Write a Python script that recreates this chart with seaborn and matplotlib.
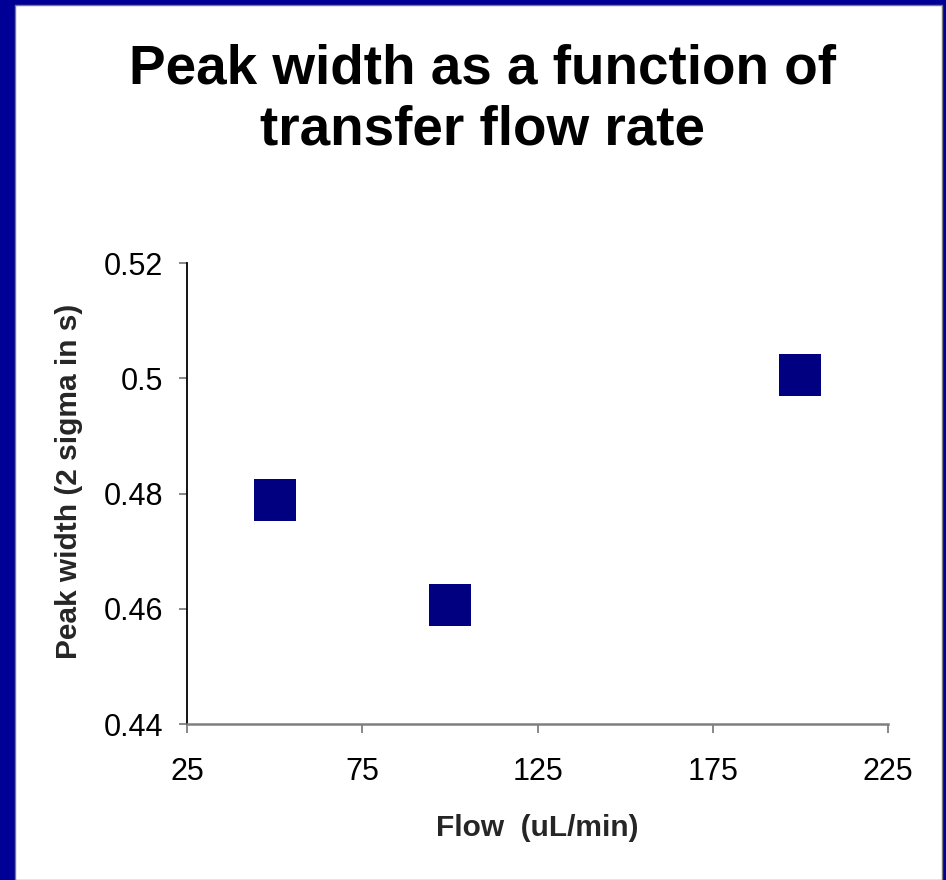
import matplotlib
matplotlib.use("Agg")
import matplotlib.pyplot as plt
from matplotlib.patches import Rectangle
import seaborn as sns
import pandas as pd

# Transfer flow rate (uL/min) and the measured peak width (2 sigma, s)
flow = [50, 100, 200]
peak_width = [0.4788, 0.4607, 0.5005]
x_ticks = [25, 75, 125, 175, 225]
y_ticks = [0.44, 0.46, 0.48, 0.50, 0.52]
y_tick_labels = ["0.44", "0.46", "0.48", "0.5", "0.52"]

df = pd.DataFrame({"flow": flow, "width": peak_width})

sns.set_theme(style="white")
plt.rcParams["font.family"] = ["Liberation Sans", "DejaVu Sans"]

fig = plt.figure(figsize=(9.46, 8.8), dpi=100)
fig.patch.set_facecolor("#000096")

# white slide panel inside the blue frame
W, H = 946.0, 880.0
panel = Rectangle((15 / W, 0), (942 - 15) / W, 875 / H,
                  transform=fig.transFigure, facecolor="white",
                  edgecolor="#7a7a7a", linewidth=1.0, zorder=-10)
fig.patches.append(panel)

ax = fig.add_axes([187 / W, 156 / H, 701 / W, 461 / H])
ax.set_zorder(5)
ax.set_facecolor("none")

sns.scatterplot(data=df, x="flow", y="width", marker="s", s=914,
                color="#000080", edgecolor="none", linewidth=0, ax=ax,
                clip_on=False, zorder=3)

ax.set_xlim(25, 225)
ax.set_ylim(0.44, 0.52)
ax.set_xticks(x_ticks)
ax.set_xticklabels([str(t) for t in x_ticks])
ax.set_yticks(y_ticks)
ax.set_yticklabels(y_tick_labels)

for side in ("top", "right"):
    ax.spines[side].set_visible(False)
ax.spines["left"].set_color("#000000")
ax.spines["left"].set_linewidth(1.3)
ax.spines["bottom"].set_color("#7f7f7f")
ax.spines["bottom"].set_linewidth(1.8)

ax.tick_params(axis="x", direction="out", length=6.5, width=1.3,
               color="#7f7f7f", labelsize=22, pad=17, labelcolor="black")
ax.tick_params(axis="y", direction="out", length=6, width=1.3,
               color="#7f7f7f", labelsize=22, pad=11, labelcolor="black")
ax.tick_params(bottom=True, left=True)

ax.set_xlabel("Flow  (uL/min)", fontsize=21.5, fontweight="bold", labelpad=20)
ax.set_ylabel("Peak width (2 sigma in s)", fontsize=21.5, fontweight="bold")
ax.yaxis.set_label_coords(-0.148, 0.526)

fig.text(482.5 / W, 1 - 100 / H, "Peak width as a function of\ntransfer flow rate",
         ha="center", va="center", fontsize=39.5, fontweight="bold",
         linespacing=1.22, color="black", zorder=6)

fig.savefig("out.png", dpi=100, facecolor=fig.get_facecolor())
